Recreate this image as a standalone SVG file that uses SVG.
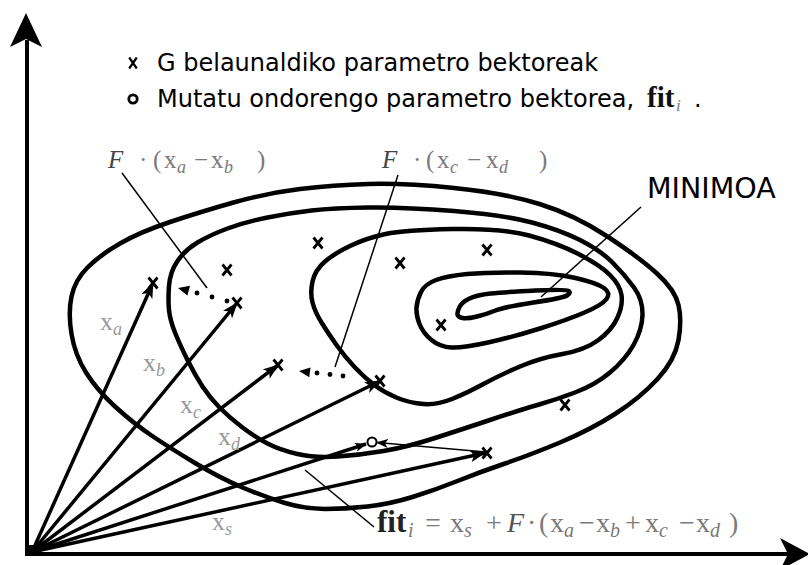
<svg xmlns="http://www.w3.org/2000/svg" width="808" height="565" viewBox="0 0 808 565">
<style>
.ct{fill:none;stroke:#000;stroke-width:4.5;stroke-linejoin:round}
.vec{stroke:#000;stroke-width:3.5;fill:none}
.thin{stroke:#000;stroke-width:1.6;fill:none}
.ld{stroke:#000;stroke-width:1.5;fill:none}
.mk{stroke:#000;stroke-width:2.8;fill:none}
.mks{stroke:#000;stroke-width:2.2;fill:none}
.lg{font-family:"DejaVu Sans",sans-serif;font-size:24px;fill:#000}
.m{font-family:"Liberation Serif","Times New Roman",serif;fill:#7a7a7a}
.it{font-style:italic}
.sub{font-size:18px;font-style:italic}
.sub2{font-size:20px;font-style:italic}
.xl{font-family:"Liberation Serif","Times New Roman",serif;font-size:26px;fill:#999}
</style>
<defs>
<marker id="ah" viewBox="0 0 16 12" refX="15" refY="6" markerWidth="16" markerHeight="12" markerUnits="userSpaceOnUse" orient="auto"><path d="M0,0 L16,6 L0,12 L4,6 Z" fill="#000"/></marker>
<marker id="ahs" viewBox="0 0 12 9" refX="11" refY="4.5" markerWidth="12" markerHeight="9" markerUnits="userSpaceOnUse" orient="auto"><path d="M0,0 L12,4.5 L0,9 L3,4.5 Z" fill="#000"/></marker>
<path id="xm" class="mk" d="M-4.5,-5.5 L4.5,5.5 M4.5,-5.5 L-4.5,5.5"/>
<path id="xms" class="mks" d="M-3.8,-5.5 L3.8,5.5 M3.8,-5.5 L-3.8,5.5"/>
</defs>
<rect width="808" height="565" fill="#fff"/>

<g id="axes">
<line x1="27" y1="556" x2="27" y2="40" stroke="#000" stroke-width="4"/>
<polygon points="26,13 42,47 26,39 10,47" fill="#000"/>
<line x1="25" y1="554" x2="790" y2="554" stroke="#000" stroke-width="4"/>
<polygon points="810,554 780,538 788,554 780,570" fill="#000"/>
<rect x="26" y="545" width="10" height="11" fill="#000"/>
</g>

<g id="contours">
<path id="contour-a" class="ct" d="M 71.5,296.5 Q 75,280 87.5,267.5 Q 100,255 120,243.5 Q 140,232 170,222 Q 200,212 233.5,202.5 Q 267,193 300,189 Q 333,185 368.5,184 Q 404,183 454,188 Q 504,193 539.5,204 Q 575,215 607.5,236.5 Q 640,258 657.5,274 Q 675,290 678.5,305 Q 682,320 678.5,340 Q 675,360 657.5,379 Q 640,398 615,414 Q 590,430 560,442.5 Q 530,455 505,463.5 Q 480,472 457.5,481 Q 435,490 412.5,497 Q 390,504 367.5,506.5 Q 345,509 325,509 Q 305,509 285,503 Q 265,497 242.5,487.5 Q 220,478 195,463 Q 170,448 151.5,435.5 Q 133,423 115,406.5 Q 97,390 86,372.5 Q 75,355 71.5,334 Q 68,313 71.5,296.5 Z"/>
<path id="contour-b" class="ct" d="M 169,286 Q 170,272 177.5,261 Q 185,250 197.5,242.5 Q 210,235 227.5,228.5 Q 245,222 267.5,217.5 Q 290,213 311.5,210.5 Q 333,208 368.5,207.5 Q 404,207 454,211 Q 504,215 532,222.5 Q 560,230 580,240 Q 600,250 612.5,262.5 Q 625,275 634,287.5 Q 643,300 642.5,315 Q 642,330 633.5,345 Q 625,360 610,372.5 Q 595,385 575,392.5 Q 555,400 537.5,405 Q 520,410 490,420 Q 460,430 433.5,438.5 Q 407,447 383.5,451 Q 360,455 337.5,456.5 Q 315,458 297.5,454 Q 280,450 267.5,443.5 Q 255,437 242.5,427.5 Q 230,418 220,408 Q 210,398 202.5,386.5 Q 195,375 187.5,360 Q 180,345 175,332.5 Q 170,320 169,310 Q 168,300 169,286 Z"/>
<path id="contour-c" class="ct" d="M 312.5,281.5 Q 315,270 325,261.5 Q 335,253 351,245.5 Q 367,238 385.5,234 Q 404,230 452.5,229 Q 501,228 529,235.5 Q 557,243 578.5,254 Q 600,265 610,275 Q 620,285 621.5,295 Q 623,305 617.5,317.5 Q 612,330 598.5,340 Q 585,350 562.5,354 Q 540,358 520,366.5 Q 500,375 483.5,384 Q 467,393 452,399 Q 437,405 423.5,404 Q 410,403 397.5,398 Q 385,393 375,385.5 Q 365,378 355,367.5 Q 345,357 336.5,345 Q 328,333 321.5,322.5 Q 315,312 312.5,302.5 Q 310,293 312.5,281.5 Z"/>
<path id="contour-d" class="ct" d="M 421,292 Q 425,284 436,280 Q 447,276 467,274 Q 487,272 520.5,272.5 Q 554,273 575.5,278 Q 597,283 604,288 Q 611,293 606.5,299 Q 602,305 584.5,312.5 Q 567,320 540,328.5 Q 513,337 488,342.5 Q 463,348 451.5,347.5 Q 440,347 431.5,340 Q 423,333 419.5,324 Q 416,315 416.5,307.5 Q 417,300 421,292 Z"/>
<path id="contour-e" class="ct" stroke-width="4" d="M 459.5,307 Q 462,302 469.5,298.5 Q 477,295 490.5,293.5 Q 504,292 535.5,290.5 Q 567,289 569,291 Q 571,293 567,295.5 Q 563,298 533.5,302.5 Q 504,307 495.5,310.5 Q 487,314 477,316.5 Q 467,319 462.5,318 Q 458,317 457.5,314.5 Q 457,312 459.5,307 Z"/>
</g>

<g id="connectors">
<line class="vec" x1="32" y1="552" x2="153" y2="283" marker-end="url(#ah)"/>
<line class="vec" x1="32" y1="552" x2="237" y2="303" marker-end="url(#ah)"/>
<line class="vec" x1="32" y1="552" x2="278" y2="365" marker-end="url(#ah)"/>
<line class="vec" x1="32" y1="552" x2="380" y2="381" marker-end="url(#ah)"/>
<line class="vec" x1="32" y1="552" x2="366" y2="444" stroke-width="3" marker-end="url(#ahs)"/>
<line class="vec" x1="32" y1="552" x2="485" y2="453" marker-end="url(#ah)"/>
<line class="thin" x1="486" y1="452" x2="377" y2="442.5" marker-end="url(#ahs)"/>
<g id="dotted-ab">
<circle cx="197" cy="293" r="2.4"/><circle cx="212" cy="297" r="2.4"/><circle cx="227" cy="301" r="2.4"/>
<polygon points="178,288 190,285.8 187.4,295.5"/>
</g>
<g id="dotted-cd">
<circle cx="317" cy="373" r="2.4"/><circle cx="330" cy="374.5" r="2.4"/><circle cx="343" cy="376" r="2.4"/>
<polygon points="299,371 310.5,367.4 309.3,377.3"/>
</g>
<line class="ld" x1="122" y1="173" x2="207" y2="288"/>
<line class="ld" x1="398" y1="175" x2="335" y2="367"/>
<line class="ld" x1="641" y1="207" x2="541" y2="297"/>
<line class="ld" x1="305" y1="470" x2="374" y2="527"/>
</g>

<g id="points">
<use href="#xm" x="153" y="283"/>
<use href="#xm" x="237" y="303"/>
<use href="#xm" x="278" y="365"/>
<use href="#xm" x="380" y="381"/>
<use href="#xm" x="227" y="270"/>
<use href="#xm" x="318" y="243"/>
<use href="#xm" x="400" y="263"/>
<use href="#xm" x="487" y="250"/>
<use href="#xm" x="441" y="325"/>
<use href="#xm" x="565" y="405"/>
<use href="#xm" x="487" y="453"/>
<circle cx="372" cy="442" r="4.5" fill="#fff" stroke="#000" stroke-width="2"/>
</g>

<g id="legend">
<use href="#xms" x="133" y="63"/>
<text class="lg" x="157" y="71">G belaunaldiko parametro bektoreak</text>
<circle cx="133" cy="99" r="4.2" fill="none" stroke="#000" stroke-width="2.8"/>
<text class="lg" x="157" y="107">Mutatu ondorengo parametro bektorea,</text>
<text x="647" y="107" font-family="Liberation Serif,serif" font-weight="bold" font-size="29" fill="#111">fit</text>
<text x="676" y="111" class="m it" font-size="17">i</text>
<text class="lg" x="694" y="107">.</text>
</g>

<g id="label-minimoa">
<text x="647" y="198" font-family="DejaVu Sans,sans-serif" font-size="28.5" fill="#000">MINIMOA</text>
</g>

<g id="label-fab">
<text class="m" y="168" font-size="25"><tspan x="108" class="it" fill="#444">F</tspan><tspan x="139">·</tspan><tspan x="153">(</tspan><tspan x="164">x</tspan><tspan x="177" dy="5" class="sub">a</tspan><tspan x="194" dy="-5">−</tspan><tspan x="211">x</tspan><tspan x="224" dy="5" class="sub">b</tspan><tspan x="257" dy="-5">)</tspan></text>
</g>
<g id="label-fcd">
<text class="m" y="168" font-size="25"><tspan x="382" class="it" fill="#444">F</tspan><tspan x="413">·</tspan><tspan x="426">(</tspan><tspan x="437">x</tspan><tspan x="450" dy="5" class="sub">c</tspan><tspan x="467" dy="-5">−</tspan><tspan x="486">x</tspan><tspan x="499" dy="5" class="sub">d</tspan><tspan x="539" dy="-5">)</tspan></text>
</g>
<g id="label-fit">
<text class="m" y="532" font-size="28"><tspan x="377" font-weight="bold" font-size="31" fill="#222">fit</tspan><tspan x="408" dy="5" class="sub2">i</tspan><tspan x="425" dy="-5">=</tspan><tspan x="450">x</tspan><tspan x="464" dy="5" class="sub2">s</tspan><tspan x="486" dy="-5">+</tspan><tspan x="507" class="it" fill="#555">F</tspan><tspan x="527">·</tspan><tspan x="539">(</tspan><tspan x="550">x</tspan><tspan x="564" dy="5" class="sub2">a</tspan><tspan x="579" dy="-5">−</tspan><tspan x="596">x</tspan><tspan x="610" dy="5" class="sub2">b</tspan><tspan x="625" dy="-5">+</tspan><tspan x="645">x</tspan><tspan x="659" dy="5" class="sub2">c</tspan><tspan x="679" dy="-5">−</tspan><tspan x="696">x</tspan><tspan x="710" dy="5" class="sub2">d</tspan><tspan x="729" dy="-5">)</tspan></text>
</g>

<g id="vector-labels">
<text class="xl" x="100" y="330">x<tspan class="sub" dy="5">a</tspan></text>
<text class="xl" x="143" y="371">x<tspan class="sub" dy="5">b</tspan></text>
<text class="xl" x="180" y="413">x<tspan class="sub" dy="5">c</tspan></text>
<text class="xl" x="218" y="445">x<tspan class="sub" dy="5">d</tspan></text>
<text class="xl" x="212" y="530">x<tspan class="sub" dy="5">s</tspan></text>
</g>
</svg>
